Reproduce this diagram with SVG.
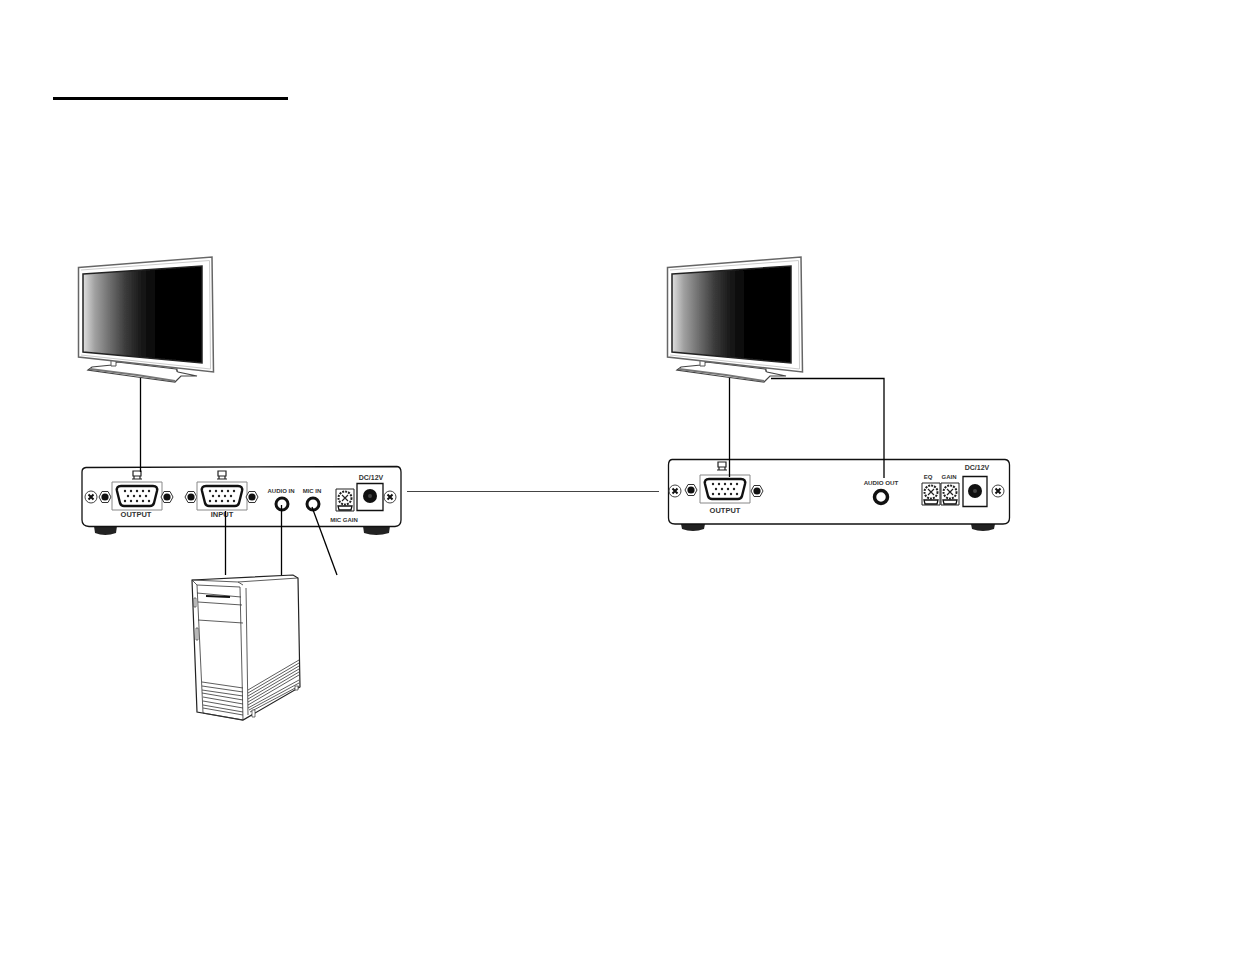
<svg xmlns="http://www.w3.org/2000/svg" width="1235" height="954" viewBox="0 0 1235 954">
<style>
.o{fill:#fff;stroke:#111;stroke-width:1.3}
.thin{fill:none;stroke:#333;stroke-width:.8}
.c{fill:none;stroke:#000;stroke-width:1.3}
.g{fill:none;stroke:#444;stroke-width:1}
.t{font-family:"Liberation Sans",Arial,sans-serif;font-weight:bold;fill:#333;text-anchor:middle}
</style>
<defs>
<filter id="soft" x="-5%" y="-5%" width="110%" height="110%"><feGaussianBlur stdDeviation="0.45"/></filter>
<linearGradient id="scr" x1="0" x2="1" y1="0" y2="0">
<stop offset="0" stop-color="#e0e0e0"/><stop offset=".1" stop-color="#a0a0a0"/><stop offset=".22" stop-color="#707070"/><stop offset=".36" stop-color="#3a3a3a"/><stop offset=".5" stop-color="#161616"/><stop offset=".65" stop-color="#000"/><stop offset="1" stop-color="#000"/>
</linearGradient>
<g id="monitor" filter="url(#soft)">
<path d="M88 370L92 367L112 365L117 362L176 369L178 372L197 376L181 376L175 382L137 377Z" fill="#fff" stroke="#444" stroke-width="1.200"/>
<path d="M90 369L137 375L175 381" stroke="#777" stroke-width="2" fill="none"/>
<path d="M111 360V366H116V360M177 366V372" fill="#fff" stroke="#555"/>
<path d="M78.500 267.500L212 257L213.500 372L78.500 357Z" fill="#fff" stroke="#666" stroke-width="1.500"/>
<path d="M81 270L209.500 260.500L210.500 369L81 355" fill="none" stroke="#ccc" stroke-width="1"/>
<path d="M83 274L202 266L202 363L83 352Z" fill="url(#scr)" stroke="#222" stroke-width="1.500"/>
</g>
<g id="vga">
<path d="M-25-14H25V14H-25Z" fill="#fff" stroke="#888" stroke-width="1"/>
<path d="M-16-10H16Q21-10 20-5L17 7Q16 10 13 10H-13Q-16 10-17 7L-20-5Q-21-10-16-10Z" fill="#fff" stroke="#111" stroke-width="2.400"/>
<g fill="#222"><circle cx="-12" cy="-5" r="1.200"/><circle cx="-6" cy="-5" r="1.200"/><circle cx="0" cy="-5" r="1.200"/><circle cx="6" cy="-5" r="1.200"/><circle cx="12" cy="-5" r="1.200"/><circle cx="-9" cy="0" r="1.200"/><circle cx="-3" cy="0" r="1.200"/><circle cx="3" cy="0" r="1.200"/><circle cx="9" cy="0" r="1.200"/><circle cx="-12" cy="5" r="1.200"/><circle cx="-6" cy="5" r="1.200"/><circle cx="0" cy="5" r="1.200"/><circle cx="6" cy="5" r="1.200"/><circle cx="12" cy="5" r="1.200"/></g>
</g>
<g id="hexnut"><path d="M-6 0L-3-5.500H3L6 0L3 5.500H-3Z" fill="#fff" stroke="#333"/><circle r="3.600" fill="#111"/></g>
<g id="screw"><circle r="6" fill="#fff" stroke="#444"/><path d="M-2.500-2.500L2.500 2.500M-2.500 2.500L2.500-2.500" stroke="#111" stroke-width="2"/></g>
<g id="jack"><circle r="6" fill="#fff" stroke="#111" stroke-width="3"/></g>
<g id="power"><circle r="7" fill="#111"/><circle r="2" fill="#444"/></g>
<g id="trim"><path d="M-9-11H9V11H-9Z" fill="#fff" stroke="#222"/><circle cy="-2" r="6.500" fill="#fff" stroke="#222" stroke-width="2" stroke-dasharray="2 1"/><path d="M-3-5L3 1M-3 1L3-5" stroke="#222" stroke-width="1.200"/><path d="M-7 6H7L6 10H-6Z" fill="#fff" stroke="#111" stroke-width="1.300"/></g>
<g id="icon"><path d="M-4-5H4V0H-4ZM-3 0V3M3 0V3M-5 3H5" fill="none" stroke="#222" stroke-width="1.200"/></g>
</defs>
<path d="M53 98.500H288" stroke="#000" stroke-width="3" fill="none"/>
<g id="monitor-left"><use href="#monitor"/></g>
<g id="monitor-right"><use href="#monitor" x="589"/></g>
<g id="device-left">
<path d="M94 526H117L116 533Q105 537 95 533ZM363 526H390L389 533Q376 537 364 533Z" fill="#222"/>
<path class="o" d="M86 467.500L397 466.500Q401 467 401 472V520Q401 526 395 526.500H89Q82 526 82 520V472Q82 468 86 467.500Z"/>
<use href="#icon" x="137" y="476"/><use href="#icon" x="222" y="476"/>
<use href="#screw" x="91" y="497"/><use href="#hexnut" x="105" y="497"/><use href="#vga" x="137" y="496"/><use href="#hexnut" x="167" y="497"/>
<use href="#hexnut" x="191" y="497"/><use href="#vga" x="222" y="496"/><use href="#hexnut" x="252" y="497"/>
<use href="#jack" x="282" y="504"/><use href="#jack" x="313" y="504"/>
<use href="#trim" x="345" y="500"/>
<path class="o" d="M357 483.500H383V510.500H357Z"/><use href="#power" x="370" y="496"/><use href="#screw" x="390" y="497"/>
<text class="t" x="136" y="517" font-size="7.500">OUTPUT</text>
<text class="t" x="222" y="517" font-size="7.500">INPUT</text>
<text class="t" x="281" y="493" font-size="6">AUDIO IN</text>
<text class="t" x="312" y="493" font-size="6">MIC IN</text>
<text class="t" x="344" y="522" font-size="6">MIC GAIN</text>
<text class="t" x="371" y="480" font-size="7">DC/12V</text>
</g>
<g id="device-right">
<path d="M681 524H705L704 529Q693 533 682 529ZM971 524H995L994 529Q983 533 972 529Z" fill="#222"/>
<path class="o" d="M672 459.500H1005Q1009.500 460 1009.500 465V518Q1009.500 524 1003 524H675Q668.500 524 668.500 518V465Q668.500 460 672 459.500Z"/>
<use href="#icon" x="722" y="467"/>
<use href="#screw" x="675" y="491"/><use href="#hexnut" x="691" y="490"/><use href="#vga" x="725" y="489"/><use href="#hexnut" x="757" y="491"/>
<circle cx="881" cy="497" r="6.500" fill="#fff" stroke="#111" stroke-width="3.500"/>
<use href="#trim" x="931" y="494"/><use href="#trim" x="950" y="494"/>
<path class="o" d="M963 476.500H987V506.500H963Z"/><use href="#power" x="975" y="491"/><use href="#screw" x="998" y="491"/>
<text class="t" x="725" y="513" font-size="7.500">OUTPUT</text>
<text class="t" x="881" y="485" font-size="6.200">AUDIO OUT</text>
<text class="t" x="928" y="479" font-size="6">EQ</text>
<text class="t" x="949" y="479" font-size="6">GAIN</text>
<text class="t" x="977" y="470" font-size="7">DC/12V</text>
</g>
<g id="computer">
<path d="M192 580L293 575L298 578L300 687L243 720L197 712Z" fill="#fff" stroke="#222" stroke-width="1.200"/>
<path d="M192 580L238 582L298 578M238 582L243 585M197 585L240 587L243 720M197 585L192 580M197 585L203 713L243 720M246 588L248 715" class="thin"/>
<path d="M197 593L241 597M198 602L242 605M198 620L243 623" class="thin"/>
<path d="M206 596L230 597" stroke="#111" stroke-width="2" fill="none"/>
<path d="M194 598L196 598L196 607L194 607ZM196 628L198 628L198 640L196 640Z" fill="#fff" stroke="#333" stroke-width=".7"/>
<path d="M202 682L243 688M202 686L243 692M202 690L243 696M202 693L243 700M203 697L243 704M203 701L243 708M203 705L243 712M203 708L243 715" class="thin"/>
<path d="M248 690L299 660M248 693L299 663M248 696L299 666M248 699L299 669M248 702L299 672M248 705L299 675M248 708L299 680M249 710L299 683M250 712L299 686" class="thin"/>
<path d="M252 710H255V717H252ZM295 686H298V690H295Z" fill="#fff" stroke="#333" stroke-width=".7"/>
</g>
<g id="connectors">
<path class="c" d="M140.500 378V472"/>
<path class="c" d="M225.500 511V575"/>
<path class="c" d="M281.500 505V575"/>
<path class="c" d="M312 507L337 575"/>
<path class="g" d="M407 491.500H659"/>
<path class="c" d="M729.500 378V477"/>
<path class="c" d="M771 378.500H884V478"/>
</g>
</svg>
